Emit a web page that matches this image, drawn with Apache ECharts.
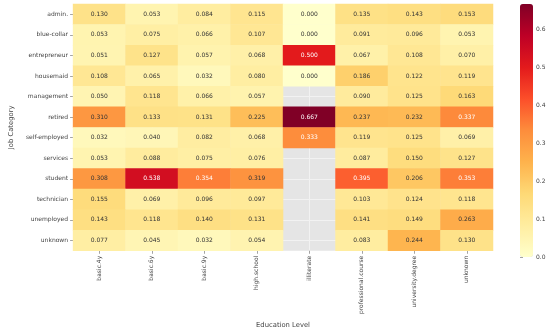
<!DOCTYPE html>
<html>
<head>
<meta charset="utf-8">
<script src="https://cdn.jsdelivr.net/npm/echarts@6/dist/echarts.min.js"></script>
<style>html,body{margin:0;padding:0;background:#fff;}#c{width:550px;height:334px;}</style>
</head>
<body>
<div id="c"></div>
<script>
const educationLevels = ['basic.4y','basic.6y','basic.9y','high.school','illiterate','professional.course','university.degree','unknown'];
const jobCategories = ['admin.','blue-collar','entrepreneur','housemaid','management','retired','self-employed','services','student','technician','unemployed','unknown'];
// rows follow jobCategories, columns follow educationLevels; null = no data
const rateAdmin        = [0.130, 0.053, 0.084, 0.115, 0.000, 0.135, 0.143, 0.153];
const rateBlueCollar   = [0.053, 0.075, 0.066, 0.107, 0.000, 0.091, 0.096, 0.053];
const rateEntrepreneur = [0.051, 0.127, 0.057, 0.068, 0.500, 0.067, 0.108, 0.070];
const rateHousemaid    = [0.108, 0.065, 0.032, 0.080, 0.000, 0.186, 0.122, 0.119];
const rateManagement   = [0.050, 0.118, 0.066, 0.057, null,  0.090, 0.125, 0.163];
const rateRetired      = [0.310, 0.133, 0.131, 0.225, 0.667, 0.237, 0.232, 0.337];
const rateSelfEmployed = [0.032, 0.040, 0.082, 0.068, 0.333, 0.119, 0.125, 0.069];
const rateServices     = [0.053, 0.088, 0.075, 0.076, null,  0.087, 0.150, 0.127];
const rateStudent      = [0.308, 0.538, 0.354, 0.319, null,  0.395, 0.206, 0.353];
const rateTechnician   = [0.155, 0.069, 0.096, 0.097, null,  0.103, 0.124, 0.118];
const rateUnemployed   = [0.143, 0.118, 0.140, 0.131, null,  0.141, 0.149, 0.263];
const rateUnknown      = [0.077, 0.045, 0.032, 0.054, null,  0.083, 0.244, 0.130];
const colorbarTicks = [0, 0.1, 0.2, 0.3, 0.4, 0.5, 0.6];

const rows = [rateAdmin, rateBlueCollar, rateEntrepreneur, rateHousemaid, rateManagement, rateRetired,
  rateSelfEmployed, rateServices, rateStudent, rateTechnician, rateUnemployed, rateUnknown];
const data = [];
rows.forEach((r, yi) => r.forEach((v, xi) => { if (v !== null) data.push([xi, yi, v]); }));
const vmax = Math.max(...data.map(d => d[2]));

const ylorrd = ['#ffffcc','#ffeda0','#fed976','#feb24c','#fd8d3c','#fc4e2a','#e31a1c','#bd0026','#800026'];
const font = 'DejaVu Sans';
const chart = echarts.init(document.getElementById('c'), null, {renderer: 'canvas'});
chart.setOption({
  animation: false,
  backgroundColor: '#ffffff',
  textStyle: {fontFamily: font},
  grid: [
    {left: 61, top: 4, width: 432, height: 253, show: true, backgroundColor: '#e5e5e5', borderWidth: 0},
    {left: 520, top: 4, width: 13, height: 253, show: false}
  ],
  xAxis: [
    {type: 'category', gridIndex: 0, data: educationLevels,
     name: 'Education Level', nameLocation: 'middle', nameGap: 68,
     nameTextStyle: {fontFamily: font, fontSize: 6.8, color: '#444'},
     axisLine: {show: false},
     axisTick: {show: true, alignWithLabel: true, length: 3, lineStyle: {color: '#666', width: 0.6}},
     axisLabel: {rotate: 90, fontFamily: font, fontSize: 6, color: '#444', margin: 5},
     splitLine: {show: true, alignWithLabel: true, lineStyle: {color: '#f2f2f2', width: 1}}},
    {type: 'value', gridIndex: 1, show: false, min: 0, max: 1}
  ],
  yAxis: [
    {type: 'category', gridIndex: 0, data: jobCategories, inverse: true,
     name: 'Job Category', nameLocation: 'middle', nameGap: 52, nameRotate: 90,
     nameTextStyle: {fontFamily: font, fontSize: 6.8, color: '#444'},
     axisLine: {show: false},
     axisTick: {show: true, alignWithLabel: true, length: 3, lineStyle: {color: '#666', width: 0.6}},
     axisLabel: {fontFamily: font, fontSize: 6, color: '#444', margin: 5},
     splitLine: {show: true, alignWithLabel: true, lineStyle: {color: '#f2f2f2', width: 1}}},
    {type: 'value', gridIndex: 1, position: 'right', min: 0, max: vmax,
     axisLine: {show: false},
     splitLine: {show: false},
     axisTick: {show: true, length: 3, customValues: colorbarTicks, lineStyle: {color: '#666', width: 0.6}},
     axisLabel: {fontFamily: font, fontSize: 6, color: '#444', margin: 3, customValues: colorbarTicks,
       formatter: v => v.toFixed(1)}}
  ],
  visualMap: {
    type: 'continuous', seriesIndex: 0, min: 0, max: vmax, calculable: false,
    left: 520, top: 4, itemWidth: 13, itemHeight: 253, padding: 0, text: null,
    showLabel: false, inRange: {color: ylorrd}, hoverLink: false
  },
  series: [{
    type: 'heatmap', xAxisIndex: 0, yAxisIndex: 0, data: data,
    itemStyle: {borderWidth: 0},
    label: {show: true, fontFamily: font, fontSize: 6,
      formatter: p => (p.value[2] >= 0.33 ? '{w|' : '{d|') + p.value[2].toFixed(3) + '}',
      rich: {w: {color: '#ffffff', fontFamily: font, fontSize: 6}, d: {color: '#333333', fontFamily: font, fontSize: 6}}},
    emphasis: {disabled: true}
  }]
});
</script>
</body>
</html>
